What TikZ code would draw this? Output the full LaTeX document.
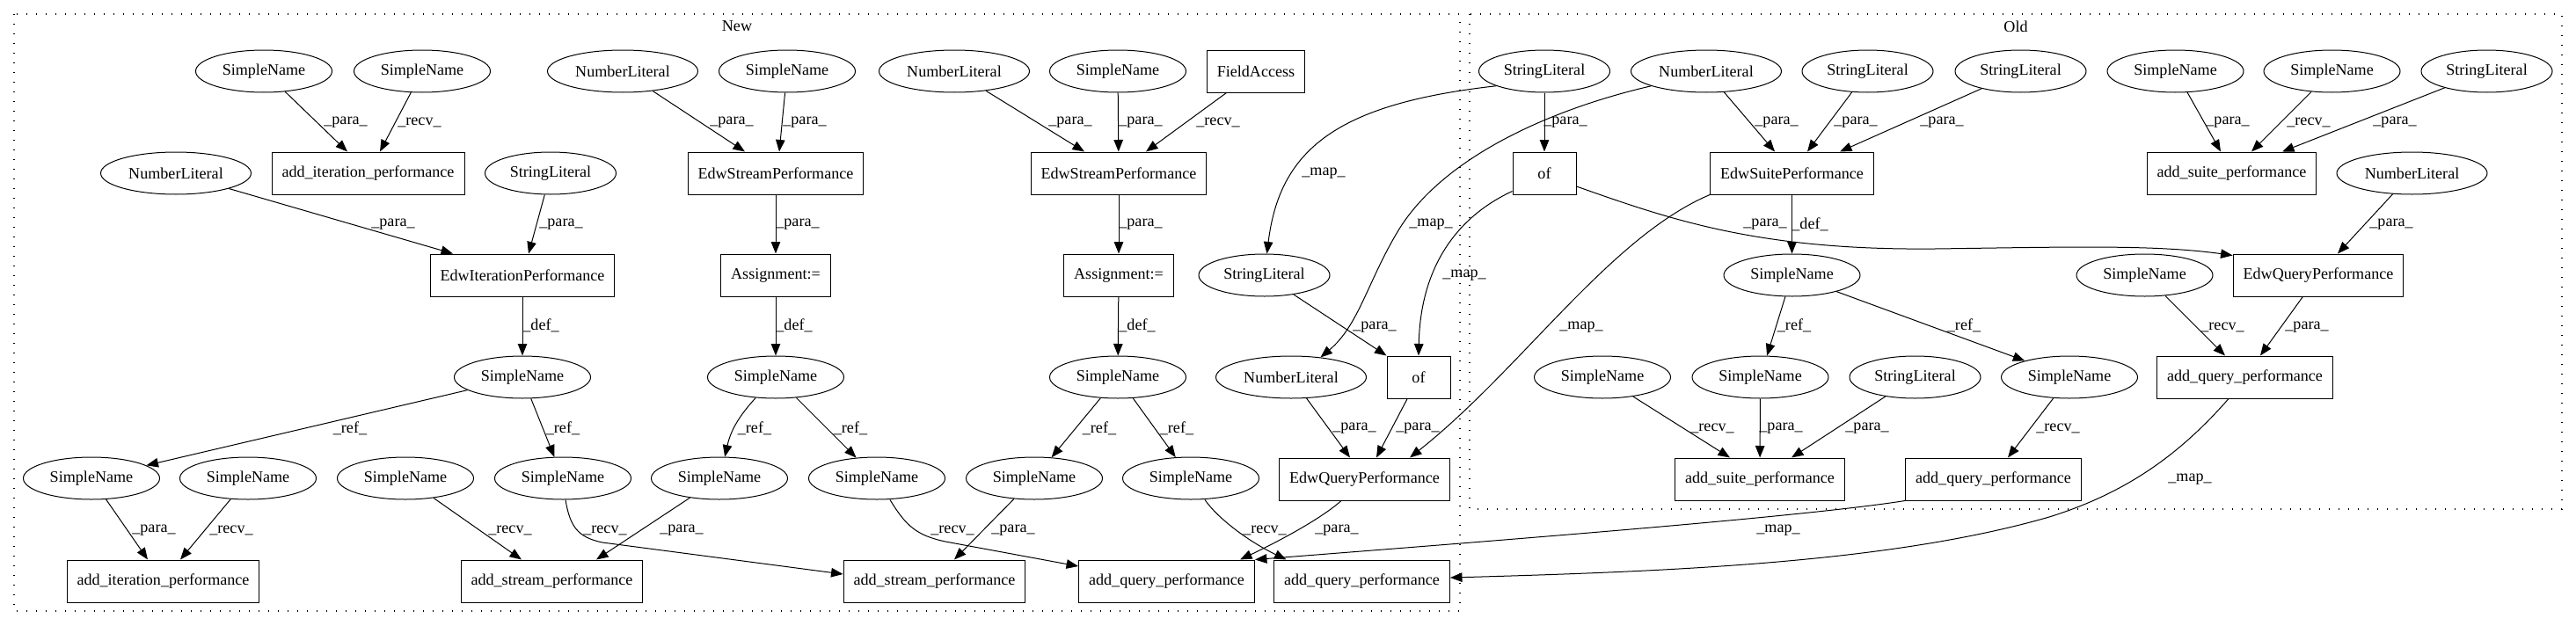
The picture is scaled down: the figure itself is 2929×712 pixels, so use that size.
\documentclass[tikz,border=0pt]{standalone}
\usepackage{fontspec}
\setmainfont{Liberation Serif}
\usetikzlibrary{arrows.meta,shapes.geometric}
\tikzset{
  nb/.style={draw, line width=1pt, inner sep=0pt},
  sn/.style={nb, ellipse, minimum width=155pt, minimum height=48pt},
  nl/.style={nb, ellipse, minimum width=171pt, minimum height=48pt},
  sl/.style={nb, ellipse, minimum width=149pt, minimum height=48pt},
  bx/.style={draw, line width=1pt, rectangle, minimum height=48pt, minimum width=72pt, inner xsep=11.5pt, inner ysep=0pt},
  e/.style={draw, line width=1pt, -{Triangle[length=13.5pt,width=10.5pt]}},
  lbl/.style={inner sep=0pt},
  clus/.style={draw, line width=1.4pt, dash pattern=on 1.4pt off 9.6pt},
}
\begin{document}
\begin{tikzpicture}[x=1pt,y=-1pt,font=\fontsize{18.1}{21.7}\selectfont]
\useasboundingbox (0,0) rectangle (2929,712);
% clusters
\draw[clus] (16,16) rectangle (1660,695);
\draw[clus] (1671,16) rectangle (2913,579);
\node (newlbl) at (838,30) {New};
\node (oldlbl) at (2292,30) {Old};
% ---- New nodes
\node[sn] (A1) at (300,81) {SimpleName};
\node[sn] (A2) at (480,81) {SimpleName};
\node[bx] (T1) at (418.5,197) {add\_iteration\_performance};
\node[nl] (N1) at (200,197) {NumberLiteral};
\node[sl] (SL1) at (626,197) {StringLiteral};
\node[bx] (EI) at (594,313) {EdwIterationPerformance};
\node[nl] (N2) at (708,81) {NumberLiteral};
\node[sn] (S3) at (895,81) {SimpleName};
\node[bx] (E1) at (882,197) {EdwStreamPerformance};
\node[bx] (As1) at (882,313) {Assignment:=};
\node[sn] (D1) at (594,429) {SimpleName};
\node[sn] (D2) at (882,429) {SimpleName};
\node[sn] (R1) at (104,544) {SimpleName};
\node[sn] (R2) at (282,544) {SimpleName};
\node[sn] (R3) at (461,544) {SimpleName};
\node[sn] (R4) at (640,544) {SimpleName};
\node[sn] (R5) at (818,544) {SimpleName};
\node[sn] (R6) at (997,544) {SimpleName};
\node[sn] (R7) at (1176,544) {SimpleName};
\node[sn] (R8) at (1354,544) {SimpleName};
\node[bx] (B1) at (185.5,661) {add\_iteration\_performance};
\node[bx] (B2) at (627.5,661) {add\_stream\_performance};
\node[bx] (B3) at (1062.5,661) {add\_stream\_performance};
\node[bx] (B4) at (1326.5,661) {add\_query\_performance};
\node[bx] (B5) at (1548.5,661) {add\_query\_performance};
\node[nl] (N3) at (1085,81) {NumberLiteral};
\node[sn] (S4) at (1271,81) {SimpleName};
\node[bx] (FA) at (1428,81) {FieldAccess};
\node[bx] (E2) at (1272,197) {EdwStreamPerformance};
\node[bx] (As2) at (1272,313) {Assignment:=};
\node[sl] (SL2) at (1437.5,313) {StringLiteral};
\node[sn] (D3) at (1271,429) {SimpleName};
\node[nl] (N4) at (1468,429) {NumberLiteral};
\node[bx] (O1) at (1613,429) {of};
\node[bx] (Q1) at (1551.5,545) {EdwQueryPerformance};
% ---- Old nodes
\node[sl] (SL3) at (1756,81) {StringLiteral};
\node[nl] (N5) at (1940,81) {NumberLiteral};
\node[bx] (O2) at (1756,197) {of};
\node[bx] (ES) at (2037.5,197) {EdwSuitePerformance};
\node[sl] (SL4) at (2123.5,81) {StringLiteral};
\node[sl] (SL5) at (2297.5,81) {StringLiteral};
\node[sn] (D4) at (2037.5,313) {SimpleName};
\node[sn] (R9) at (2001.5,429) {SimpleName};
\node[sn] (R10) at (2353,429) {SimpleName};
\node[sn] (R11) at (1822,429) {SimpleName};
\node[sl] (SL6) at (2177.5,429) {StringLiteral};
\node[bx] (B6) at (2001,545) {add\_suite\_performance};
\node[bx] (B7) at (2266.5,545) {add\_query\_performance};
\node[sn] (S5) at (2473.5,81) {SimpleName};
\node[sn] (S6) at (2651.5,81) {SimpleName};
\node[sl] (SL7) at (2827.5,81) {StringLiteral};
\node[bx] (B9) at (2537.5,197) {add\_suite\_performance};
\node[nl] (N6) at (2742.5,197) {NumberLiteral};
\node[bx] (Q2) at (2636,313) {EdwQueryPerformance};
\node[sn] (R12) at (2438.5,313) {SimpleName};
\node[bx] (B8) at (2552.5,429) {add\_query\_performance};
% ---- New edges
\draw[e] (A1) -- ([xshift=-23.5pt]T1.north) node[lbl,at={(393,139)}]{\_para\_};
\draw[e] (A2) -- ([xshift=13.5pt]T1.north) node[lbl,at={(477,139)}]{\_recv\_};
\draw[e] (N1) -- ([xshift=-79pt]EI.north) node[lbl,at={(447,255)}]{\_para\_};
\draw[e] (SL1) -- ([xshift=7pt]EI.north) node[lbl,at={(638,255)}]{\_para\_};
\draw[e] (N2) -- ([xshift=-35pt]E1.north) node[lbl,at={(832,139)}]{\_para\_};
\draw[e] (S3) -- ([xshift=4pt]E1.north) node[lbl,at={(915,139)}]{\_para\_};
\draw[e] (E1) -- (As1) node[lbl,at={(907,255)}]{\_para\_};
\draw[e] (EI) -- (D1) node[lbl,at={(615,370)}]{\_def\_};
\draw[e] (As1) -- (D2) node[lbl,at={(903,370)}]{\_def\_};
\draw[e] (D1) -- (R1) node[lbl,at={(398,487)}]{\_ref\_};
\draw[e] (D1) -- (R4) node[lbl,at={(640,487)}]{\_ref\_};
\draw[e] (R1) -- ([xshift=-17.5pt]B1.north) node[lbl,at={(175,603)}]{\_para\_};
\draw[e] (R2) -- ([xshift=19.5pt]B1.north) node[lbl,at={(263,603)}]{\_recv\_};
\draw[e] (R3) -- ([xshift=-34.5pt]B2.north) node[lbl,at={(580,603)}]{\_recv\_};
\draw[e] (R5) -- ([xshift=50.5pt]B2.north) node[lbl,at={(775,603)}]{\_para\_};
\draw[e] ([xshift=3pt]R4.south) .. controls (648,598) and (656,611) .. (685,617) -- ([yshift=8pt]B3.west) node[lbl,at={(688,603)}]{\_recv\_};
\draw[e] (D2) to[bend right=15] (R5) node[lbl,at={(858,487)}]{\_ref\_};
\draw[e] (D2) -- (R6) node[lbl,at={(967,487)}]{\_ref\_};
\draw[e] ([xshift=15pt]R6.south) .. controls (1030,598) and (1042,609) .. (1075,616) -- ([yshift=17pt]B4.west) node[lbl,at={(1083,603)}]{\_recv\_};
\draw[e] (R7) -- ([xshift=22.5pt]B3.north) node[lbl,at={(1152,603)}]{\_para\_};
\draw[e] (N3) -- ([xshift=-39pt]E2.north) node[lbl,at={(1217,139)}]{\_para\_};
\draw[e] (S4) -- (E2) node[lbl,at={(1297,139)}]{\_para\_};
\draw[e] (FA) -- ([xshift=31pt]E2.north) node[lbl,at={(1385,139)}]{\_recv\_};
\draw[e] (E2) -- (As2) node[lbl,at={(1297,255)}]{\_para\_};
\draw[e] (As2) -- (D3) node[lbl,at={(1293,370)}]{\_def\_};
\draw[e] (D3) -- (R7) node[lbl,at={(1250,487)}]{\_ref\_};
\draw[e] (D3) -- (R8) node[lbl,at={(1338,487)}]{\_ref\_};
\draw[e] ([xshift=16pt]R8.south) .. controls (1385,590) and (1420,616) .. ([xshift=-86pt]B5.north) node[lbl,at={(1438,603)}]{\_recv\_};
\draw[e] (N4) -- ([xshift=-16.5pt]Q1.north) node[lbl,at={(1540,487)}]{\_para\_};
\draw[e] (O1) -- ([xshift=13.5pt]Q1.north) node[lbl,at={(1612,487)}]{\_para\_};
\draw[e] ([xshift=-26.5pt]Q1.south) .. controls (1500,592) and (1445,620) .. ([xshift=83.5pt]B4.north) node[lbl,at={(1520,603)}]{\_para\_};
\draw[e] (SL2) -- (O1.north west) node[lbl,at={(1563,372)}]{\_para\_};
% ---- cross edges
\draw[e] (SL3.197) .. controls (1520,118) and (1455,170) .. ([xshift=3pt]SL2.north) node[lbl,at={(1505,197)}]{\_map\_};
\draw[e] (N5.195) .. controls (1760,125) and (1640,180) .. (1590,262) .. controls (1555,320) and (1545,370) .. (N4.34) node[lbl,at={(1627,255)}]{\_map\_};
\draw[e] ([yshift=4pt]O2.south west) .. controls (1660,245) and (1615,300) .. (O1.north) node[lbl,at={(1665,313)}]{\_map\_};
\draw[e] (ES.south west) .. controls (1830,270) and (1730,420) .. ([xshift=51.5pt]Q1.north) node[lbl,at={(1798,372)}]{\_map\_};
\draw[e] (B7.south west) .. controls (2050,588) and (1700,615) .. (B4.north east) node[lbl,at={(2022,603)}]{\_map\_};
\draw[e] ([xshift=-18.5pt]B8.south) .. controls (2480,515) and (2420,560) .. (2330,588) .. controls (2150,640) and (1900,650) .. ([yshift=4pt]B5.east) node[lbl,at={(2490,545)}]{\_map\_};
% ---- Old edges
\draw[e] (SL3) -- (O2) node[lbl,at={(1780,139)}]{\_para\_};
\draw[e] ([yshift=-15pt]O2.east) .. controls (1900,250) and (2000,285) .. (2200,283) .. controls (2350,281) and (2450,278) .. ([yshift=-2pt]Q2.north west) node[lbl,at={(2007,255)}]{\_para\_};
\draw[e] (N5) -- ([xshift=-19.5pt]ES.north) node[lbl,at={(2020,139)}]{\_para\_};
\draw[e] (SL4) -- ([xshift=17.5pt]ES.north) node[lbl,at={(2110,139)}]{\_para\_};
\draw[e] (SL5) -- ([xshift=54.5pt]ES.north) node[lbl,at={(2208,139)}]{\_para\_};
\draw[e] (ES) -- (D4) node[lbl,at={(2058,255)}]{\_def\_};
\draw[e] (D4) -- (R9) node[lbl,at={(2040,370)}]{\_ref\_};
\draw[e] (D4) -- (R10) node[lbl,at={(2233,370)}]{\_ref\_};
\draw[e] (R11) -- ([xshift=-34pt]B6.north) node[lbl,at={(1947,487)}]{\_recv\_};
\draw[e] (R9) -- (B6) node[lbl,at={(2025,487)}]{\_para\_};
\draw[e] (SL6) -- ([xshift=36pt]B6.north) node[lbl,at={(2123,487)}]{\_para\_};
\draw[e] (R10) -- ([xshift=16.5pt]B7.north) node[lbl,at={(2340,487)}]{\_recv\_};
\draw[e] (N6) -- ([xshift=22pt]Q2.north) node[lbl,at={(2719,255)}]{\_para\_};
\draw[e] (S5) -- ([xshift=-12.5pt]B9.north) node[lbl,at={(2533,139)}]{\_para\_};
\draw[e] (S6) -- ([xshift=22.5pt]B9.north) node[lbl,at={(2625,139)}]{\_recv\_};
\draw[e] (SL7) -- ([xshift=57.5pt]B9.north) node[lbl,at={(2723,139)}]{\_para\_};
\draw[e] (R12) -- ([xshift=-22.5pt]B8.north) node[lbl,at={(2527,372)}]{\_recv\_};
\draw[e] (Q2) -- ([xshift=17.5pt]B8.north) node[lbl,at={(2623,372)}]{\_para\_};
\end{tikzpicture}
\end{document}
